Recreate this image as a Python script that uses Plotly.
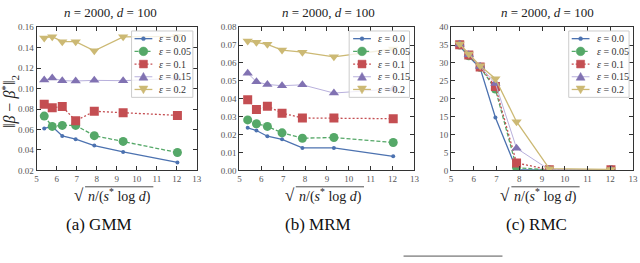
import plotly.graph_objects as go

x_vals = [5.38, 5.78, 6.28, 6.95, 7.88, 9.32, 12.03]
eps_labels = ["0.0", "0.05", "0.1", "0.15", "0.2"]

gmm = {
    "0.0":  [0.061, 0.063, 0.0537, 0.0506, 0.0443, 0.0381, 0.0278],
    "0.05": [0.0731, 0.063, 0.064, 0.064, 0.054, 0.0484, 0.0375],
    "0.1":  [0.0847, 0.0813, 0.0825, 0.0685, 0.0778, 0.0763, 0.0738],
    "0.15": [0.1083, 0.1102, 0.1077, 0.1074, 0.108, 0.1077, 0.110],
    "0.2":  [0.1495, 0.1507, 0.1458, 0.1458, 0.1369, 0.1505, 0.151],
}
mrm = {
    "0.0":  [0.0238, 0.0223, 0.0191, 0.0174, 0.0126, 0.0126, 0.0079],
    "0.05": [0.0282, 0.0261, 0.0246, 0.021, 0.018, 0.0184, 0.0156],
    "0.1":  [0.0395, 0.034, 0.0359, 0.032, 0.0293, 0.0293, 0.0289],
    "0.15": [0.0543, 0.0495, 0.048, 0.0473, 0.0478, 0.0432, 0.0455],
    "0.2":  [0.0722, 0.0715, 0.0704, 0.0672, 0.066, 0.0634, 0.0678],
}
rmc = {
    "0.0":  [34.7, 31.8, 28.6, 14.8, 0.2, 0.1, 0.2],
    "0.05": [35.0, 32.0, 28.8, 22.7, 0.8, 0.1, 0.2],
    "0.1":  [35.1, 32.2, 28.9, 23.4, 2.1, 0.2, 0.2],
    "0.15": [35.2, 32.3, 29.0, 24.3, 6.2, 0.2, 0.2],
    "0.2":  [35.3, 32.5, 29.2, 25.6, 13.6, 0.5, 0.3],
}

titles = ["<i>n</i> = 2000, <i>d</i> = 100"] * 3
captions = ["(a) GMM", "(b) MRM", "(c) RMC"]
xlabel_radicand = "<i>n</i>/(<i>s</i><sup>*</sup> log <i>d</i>)"
ylabel = "‖<i>β</i> − <i>β</i><sup>*</sup>‖<sub>2</sub>"

colors = ["#4C72B0", "#55A868", "#C44E52", "#8172B2", "#CCB974"]
line_colors = ["#4C72B0", "#55A868", "#C44E52", "#B8B0DC", "#CCB974"]
dashes = ["solid", "4px,2px", "2px,2px", "solid", "solid"]
symbols = ["circle", "circle", "square", "triangle-up", "triangle-down"]
msizes = [4, 9, 9, 9, 9]
lwidths = [1.3, 1.3, 1.3, 1.0, 1.3]

FONT = "Liberation Serif"
W, H = 640, 263

def px_x(p):
    return p / W

def px_y(p):
    return 1 - p / H

panels = [
    dict(data=gmm, xd=[px_x(35), px_x(197)], yr=[0.02, 0.16], dt=0.02, fmt=".2f",
         box=(131, 27, 193, 96), lx=134, tx=157, title_c=110, xl_c=115, cap_c=98),
    dict(data=mrm, xd=[px_x(240), px_x(417)], yr=[0.0, 0.08], dt=0.01, fmt=".2f",
         box=(351, 27, 412, 96), lx=355, tx=378, title_c=330, xl_c=328, cap_c=319),
    dict(data=rmc, xd=[px_x(454), px_x(638)], yr=[0, 40], dt=5, fmt="d",
         box=(573, 27, 634, 96), lx=576, tx=600, title_c=552, xl_c=546, cap_c=540),
]
row_y = [35, 48.2, 61.4, 74.6, 87.8]


def marker_shape(sym, cx, cy, size, color):
    r = size / 2
    base = dict(xref="x4", yref="y4", layer="above", fillcolor=color,
                line=dict(color=color, width=0.5))
    if sym == "circle":
        return dict(type="circle", x0=cx - r, x1=cx + r, y0=cy - r, y1=cy + r, **base)
    if sym == "square":
        r = size * 0.45
        return dict(type="rect", x0=cx - r, x1=cx + r, y0=cy - r, y1=cy + r, **base)
    h = size * 0.5
    if sym == "triangle-up":
        path = f"M{cx - h},{cy + h * 0.8} L{cx + h},{cy + h * 0.8} L{cx},{cy - h} Z"
    else:
        path = f"M{cx - h},{cy - h * 0.8} L{cx + h},{cy - h * 0.8} L{cx},{cy + h} Z"
    return dict(type="path", path=path, **base)


fig = go.Figure()
layout = dict(
    width=W, height=H, margin=dict(l=0, r=0, t=0, b=0),
    paper_bgcolor="white", plot_bgcolor="rgba(0,0,0,0)",
    font=dict(family=FONT, size=10, color="#222"),
    showlegend=False,
)
annotations = []
shapes = []
ydom = [px_y(172), px_y(23)]

def ann(text, x, y, size, color="#222", xanchor="center", **kw):
    return dict(text=text, x=x, y=y, xref="x4", yref="y4", showarrow=False,
                xanchor=xanchor, yanchor="middle",
                font=dict(family=FONT, size=size, color=color), **kw)

for i, p in enumerate(panels):
    k = "" if i == 0 else str(i + 1)
    for j, e in enumerate(eps_labels):
        fig.add_trace(go.Scatter(
            x=x_vals, y=p["data"][e], mode="lines+markers",
            name="ε = " + e,
            line=dict(color=line_colors[j], dash=dashes[j], width=lwidths[j]),
            marker=dict(color=colors[j], symbol=symbols[j], size=msizes[j]),
            xaxis="x" + k, yaxis="y" + k,
        ))
    axstyle = dict(showline=True, linecolor="#333", linewidth=1, mirror="ticks",
                   ticks="inside", ticklen=4, tickcolor="#333", showgrid=False,
                   zeroline=False, tickfont=dict(family=FONT, size=9, color="#555"))
    layout["xaxis" + k] = dict(domain=p["xd"], range=[5, 13], dtick=1, tick0=5,
                               anchor="y" + k, **axstyle)
    layout["yaxis" + k] = dict(domain=ydom, range=p["yr"], dtick=p["dt"],
                               tick0=p["yr"][0], tickformat=p["fmt"],
                               anchor="x" + k, **axstyle)

    # legend drawn with shapes on a pixel overlay axis (x4/y4)
    bx0, by0, bx1, by1 = p["box"]
    shapes.append(dict(type="rect", xref="x4", yref="y4", layer="above",
                       x0=bx0, x1=bx1, y0=by0, y1=by1,
                       fillcolor="rgba(255,255,255,0.8)",
                       line=dict(color="#cccccc", width=1)))
    for j, e in enumerate(eps_labels):
        lx = p["lx"]
        shapes.append(dict(type="line", xref="x4", yref="y4", layer="above",
                           x0=lx, x1=lx + 18, y0=row_y[j], y1=row_y[j],
                           line=dict(color=line_colors[j], dash=dashes[j], width=lwidths[j])))
        shapes.append(marker_shape(symbols[j], lx + 9, row_y[j], msizes[j], colors[j]))
        annotations.append(ann("<i>ε</i> = " + e, p["tx"], row_y[j], 10, "#333", xanchor="left"))

    annotations.append(ann(titles[i], p["title_c"], 8, 13))
    c = p["xl_c"]
    annotations.append(ann("√", c - 30, 198, 17, xanchor="right"))
    annotations.append(ann(xlabel_radicand, c + 4, 198, 14))
    shapes.append(dict(type="line", xref="x4", yref="y4", layer="above",
                       x0=c - 31, x1=c + 38, y0=189, y1=189,
                       line=dict(color="#222", width=0.8)))
    annotations.append(ann(captions[i], p["cap_c"], 228, 17, "#111"))

layout["xaxis4"] = dict(domain=[0, 1], range=[0, W], visible=False, anchor="y4",
                        fixedrange=True)
layout["yaxis4"] = dict(domain=[0, 1], range=[H, 0], visible=False, anchor="x4",
                        fixedrange=True)

annotations.append(ann(ylabel, 8, 100, 16, textangle=-90))
layout["annotations"] = annotations
shapes.append(dict(type="line", xref="x4", yref="y4", layer="above",
                   x0=406, x1=506, y0=261, y1=261,
                   line=dict(color="#555", width=1)))
layout["shapes"] = shapes
fig.update_layout(**layout)
fig.write_html("out.html", config={"displayModeBar": False},
               post_script="document.body.style.margin='0';document.body.style.overflow='hidden';")
